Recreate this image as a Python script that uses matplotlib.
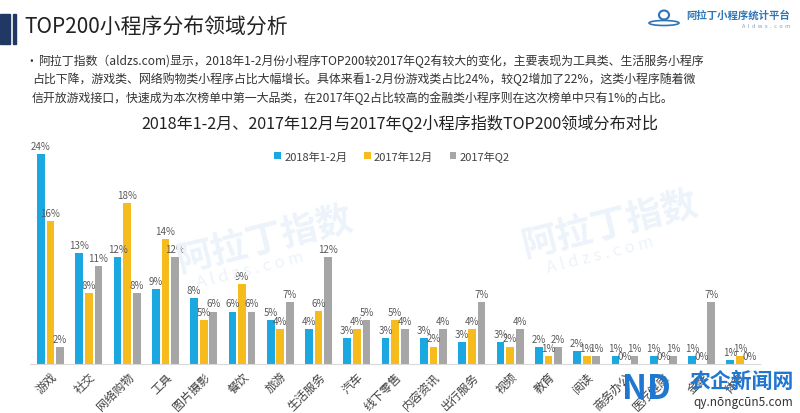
import matplotlib
matplotlib.use("Agg")
import numpy as np
import matplotlib.pyplot as plt
from matplotlib.patches import Rectangle, Ellipse

plt.rcParams['font.family'] = ['Noto Sans CJK SC', 'DejaVu Sans']

# data
categories = ["游戏", "社交", "网络购物", "工具", "图片摄影", "餐饮", "旅游", "生活服务",
              "汽车", "线下零售", "内容资讯", "出行服务", "视频", "教育", "阅读",
              "商务办公", "医疗健康", "金融", "体育"]
s_2018 = [24.0, 12.7, 12.2, 8.6, 7.5, 6.0, 5.0, 4.0, 3.0, 3.0, 3.0, 2.5, 2.5,
          1.9, 1.5, 0.9, 0.9, 0.9, 0.5]
s_1712 = [16.3, 8.1, 18.4, 14.3, 5.0, 9.1, 4.0, 6.1, 4.0, 5.0, 2.0, 4.0, 2.0,
          0.9, 0.9, 0.0, 0.0, 0.0, 0.9]
s_q2 = [1.9, 11.2, 8.1, 12.2, 6.0, 6.0, 7.1, 12.2, 5.0, 4.0, 4.0, 7.1, 4.0,
        1.9, 0.9, 0.9, 0.9, 7.1, 0.0]
series_names = ["2018年1-2月", "2017年12月", "2017年Q2"]
colors = ["#1BA8E0", "#F6BC1E", "#A6A6A6"]

lines = [
    "阿拉丁指数（aldzs.com)显示，2018年1-2月份小程序TOP200较2017年Q2有较大的变化，主要表现为工具类、生活服务小程序",
    "占比下降，游戏类、网络购物类小程序占比大幅增长。具体来看1-2月份游戏类占比24%，较Q2增加了22%，这类小程序随着微",
    "信开放游戏接口，快速成为本次榜单中第一大品类，在2017年Q2占比较高的金融类小程序则在这次榜单中只有1%的占比。",
]

W, H = 800, 414
fig = plt.figure(figsize=(8, 4.14), dpi=100)
fig.patch.set_facecolor("white")

def fx(px):
    return px / W

def fy(py):
    return 1 - py / H

# header
fig.patches.append(Rectangle((0, fy(45)), fx(10), 30 / H, transform=fig.transFigure,
                             color="#1F3864", zorder=5))
fig.patches.append(Rectangle((fx(13), fy(45)), fx(3), 30 / H, transform=fig.transFigure,
                             color="#1F3864", zorder=5))
fig.text(fx(24), fy(28), "TOP200小程序分布领域分析", fontsize=15, color="#222222",
         va="center", ha="left")
fig.text(fx(790), fy(15), "阿拉丁小程序统计平台", fontsize=7.5, color="#2E75B6",
         fontweight="bold", ha="right", va="center")
fig.text(fx(790), fy(26), "A  l  d  w  x  .  c  o  m", fontsize=4, color="#7F9FC0",
         ha="right", va="center")
# small logo mark
fig.patches.append(Ellipse((fx(664), fy(16)), fx(10), 9 / H, transform=fig.transFigure,
                           fill=False, ec="#2E75B6", lw=1.5))
fig.patches.append(Ellipse((fx(664), fy(24)), fx(30), 5 / H, transform=fig.transFigure,
                           fill=False, ec="#2E75B6", lw=1.2))

fig.text(fx(25), fy(61), "•", fontsize=8.5, color="#333333", va="center")
fig.text(fx(38), fy(61), lines[0], fontsize=8.6, color="#333333", va="center", ha="left")
for i, ln in enumerate(lines[1:]):
    fig.text(fx(32), fy(79.5 + i * 18.5), ln, fontsize=8.6, color="#333333",
             va="center", ha="left")

fig.text(fx(400), fy(124), "2018年1-2月、2017年12月与2017年Q2小程序指数TOP200领域分布对比",
         fontsize=11.6, color="#222222", ha="center", va="center")

# watermarks
wm = "#EDF3FA"
fig.text(fx(265), fy(240), "阿拉丁指数", fontsize=26, color=wm, rotation=14,
         ha="center", va="center", fontweight="bold", zorder=0)
fig.text(fx(250), fy(270), "A l d z s . c o m", fontsize=12, color=wm, rotation=14,
         ha="center", va="center", zorder=0)
fig.text(fx(610), fy(225), "阿拉丁指数", fontsize=26, color=wm, rotation=14,
         ha="center", va="center", fontweight="bold", zorder=0)
fig.text(fx(600), fy(255), "A l d z s . c o m", fontsize=12, color=wm, rotation=14,
         ha="center", va="center", zorder=0)

# axes
left_px, right_px = 30, 760
ax = fig.add_axes([fx(left_px), fy(365), (right_px - left_px) / W, (365 - 137.5) / H])
ax.patch.set_alpha(0)
x = np.arange(len(categories))
scale = 38.3
xmin = -(50.5 - left_px) / scale
ax.set_xlim(xmin, xmin + (right_px - left_px) / scale)
ax.set_ylim(0, 26)

bw = 0.2
offs = [-0.25, 0, 0.25]
for vals, name, c, o in zip([s_2018, s_1712, s_q2], series_names, colors, offs):
    ax.bar(x + o, vals, bw, color=c, label=name, zorder=2)
    for xi, v in zip(x, vals):
        ax.text(xi + o, v + 0.35, "%d%%" % int(v + 0.5), fontsize=7, color="#595959",
                ha="center", va="bottom", zorder=3)

for s in ["top", "right", "left"]:
    ax.spines[s].set_visible(False)
ax.spines["bottom"].set_color("#D9D9D9")
ax.set_yticks([])
ax.set_xticks(x)
ax.set_xticklabels(categories, rotation=45, ha="right", rotation_mode="anchor",
                   fontsize=8.5, color="#404040")
ax.tick_params(axis="x", length=0, pad=4)

leg = ax.legend(ncol=3, loc="center", bbox_to_anchor=(fx(392), fy(157)),
                bbox_transform=fig.transFigure, frameon=False, fontsize=8,
                handlelength=0.6, handleheight=0.6, handletextpad=0.3, columnspacing=1.5)
for t in leg.get_texts():
    t.set_color("#404040")

# site watermark bottom right
fig.text(fx(622), fy(390), "ND", fontsize=24, color="#1F77D0", fontweight="bold",
         ha="left", va="center", zorder=10)
fig.text(fx(690), fy(381), "农企新闻网", fontsize=15, color="#1F77D0", fontweight="bold",
         ha="left", va="center", zorder=10)
fig.text(fx(693), fy(403), "qy.nōngcūn5.com", fontsize=8.5, color="#333333",
         ha="left", va="center", zorder=10)

fig.savefig("out.png", dpi=100)
